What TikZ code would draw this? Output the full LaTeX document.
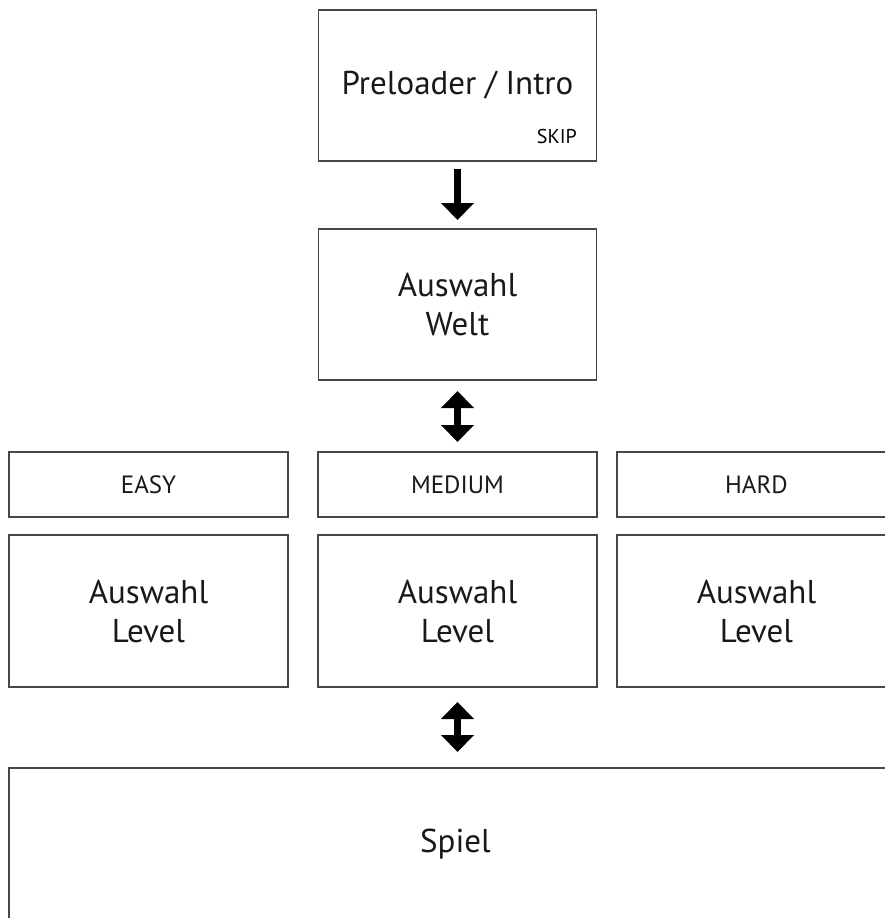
\documentclass[tikz,border=0pt]{standalone}
\usepackage{fontspec}
\setmainfont{PT Sans}
\usetikzlibrary{arrows.meta,calc}

\newcommand{\bigtxt}{\fontsize{33}{39}\selectfont}
\newcommand{\midtxt}{\fontsize{25}{30}\selectfont}
\newcommand{\smalltxt}{\fontsize{20}{24}\selectfont}

\tikzset{
  screen/.style={draw=black!72, line width=1.8pt, inner sep=0pt, outer sep=0pt,
                 align=center, font=\bigtxt, text=black!90},
  tab/.style={screen, font=\midtxt, minimum width=279pt, minimum height=65pt},
  levelbox/.style={screen, minimum width=279pt, minimum height=152pt},
  oneway/.style={line width=6.5pt, -{Triangle[width=32pt,length=17pt]}},
  twoway/.style={line width=6.5pt,
                 {Triangle[width=32pt,length=17pt]}-{Triangle[width=32pt,length=17pt]}}
}

\begin{document}
\begin{tikzpicture}[x=1pt,y=-1pt]
  \useasboundingbox (0,0) rectangle (885,918);
  \fill[white] (0,0) rectangle (885,918);
  \clip (0,0) rectangle (885,918);

  % intro screen
  \node[screen, minimum width=278pt, minimum height=151pt] (pre) at (457.5,85.5)
    {\raisebox{3pt}{Preloader / Intro}};
  \node[font=\smalltxt, anchor=base east, inner sep=0pt]
    (skip) at ($(pre.south east)+(-19.5,-18)$) {SKIP};

  % world selection
  \node[screen, minimum width=278pt, minimum height=151pt] (welt) at (457.5,304.5)
    {Auswahl\\Welt};

  % difficulty tabs
  \node[tab] (easy)   at (148.5,484.5) {EASY};
  \node[tab] (medium) at (457.5,484.5) {MEDIUM};
  \node[tab] (hard)   at (756.5,484.5) {HARD};

  % level selection per difficulty
  \node[levelbox] (lvE) at (148.5,611) {Auswahl\\Level};
  \node[levelbox] (lvM) at (457.5,611) {Auswahl\\Level};
  \node[levelbox] (lvH) at (756.5,611) {Auswahl\\Level};

  % game screen
  \node[screen, minimum width=893pt, minimum height=152pt] (spiel) at (455.5,844)
    {Spiel};

  % flow
  \draw[oneway, shorten <=8pt, shorten >=9pt] (pre.south) -- (welt.north);
  \draw[twoway, shorten <=11pt, shorten >=10pt] (welt.south) -- (medium.north);
  \draw[twoway, shorten <=15pt, shorten >=16pt] (lvM.south) -- (lvM.south |- spiel.north);
\end{tikzpicture}
\end{document}
